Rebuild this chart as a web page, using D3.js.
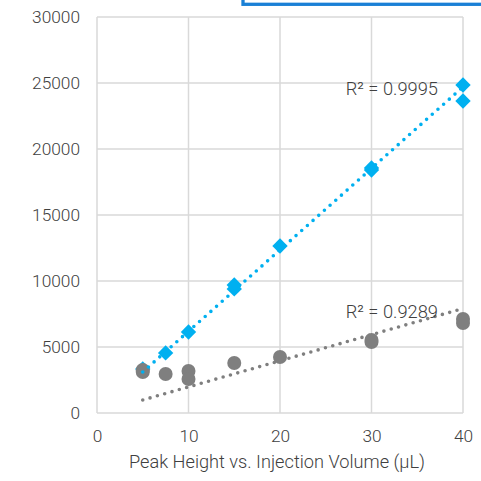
<!DOCTYPE html>
<html>
<head>
<meta charset="utf-8">
<script src="https://cdn.jsdelivr.net/npm/d3@7"></script>
<style>
  html, body { margin: 0; padding: 0; background: #ffffff; }
  svg { display: block; }
  text { font-family: Roboto, "Noto Sans", sans-serif; font-weight: 300; fill: #404040; }
</style>
</head>
<body>
<svg id="chart" width="481" height="481"></svg>
<script>
// ---- data ----
const xTicks = [0, 10, 20, 30, 40];
const yTicks = [0, 5000, 10000, 15000, 20000, 25000, 30000];
const blueX = [5, 7.5, 10, 15, 15, 20, 30, 30, 40, 40];
const blueY = [3330, 4550, 6140, 9700, 9400, 12650, 18560, 18410, 24850, 23640];
const greyX = [5, 5, 7.5, 10, 10, 15, 20, 30, 30, 40, 40];
const greyY = [3260, 3100, 2950, 3180, 2580, 3790, 4240, 5380, 5530, 7120, 6820];
// trendline coefficients (slope, intercept) and labels
const blueTrend = [617, 20];
const greyTrend = [198, -5];
const trendRange = [5, 40];
const blueR2 = "R² = 0.9995";
const greyR2 = "R² = 0.9289";
const xTitle = "Peak Height vs. Injection Volume (µL)";

const blueColor = "#00b0f0";
const greyColor = "#7f7f7f";
const gridColor = "#d9d9d9";

const svg = d3.select("#chart");
const pL = 97, pR = 463, pT = 17, pB = 413;

const x = d3.scaleLinear().domain([0, 40]).range([pL, pR]);
const y = d3.scaleLinear().domain([0, 30000]).range([pB, pT]);

// legend box fragment at top
svg.append("rect")
  .attr("x", 243).attr("y", -20).attr("width", 300).attr("height", 24.3)
  .attr("fill", "none").attr("stroke", "#1a80d6").attr("stroke-width", 3.3);

// gridlines
const g = svg.append("g");
g.selectAll("line.h").data(yTicks).join("line")
  .attr("x1", pL).attr("x2", pR)
  .attr("y1", d => y(d)).attr("y2", d => y(d))
  .attr("stroke", gridColor).attr("stroke-width", 1.5);
g.selectAll("line.v").data(xTicks).join("line")
  .attr("x1", d => x(d)).attr("x2", d => x(d))
  .attr("y1", pT).attr("y2", pB)
  .attr("stroke", gridColor).attr("stroke-width", 1.5);

// axes (labels only)
const yAxis = d3.axisLeft(y).tickValues(yTicks).tickSize(0).tickPadding(17).tickFormat(d3.format("d"));
const yg = svg.append("g").attr("transform", `translate(${pL},0)`).call(yAxis);
yg.select(".domain").remove();
yg.selectAll("text").style("font-size", "17.3px").attr("fill", "#404040").style("font-family", "Roboto").style("font-weight", 300);

const xAxis = d3.axisBottom(x).tickValues(xTicks).tickSize(0).tickPadding(17);
const xg = svg.append("g").attr("transform", `translate(0,${pB})`).call(xAxis);
xg.select(".domain").remove();
xg.selectAll("text").style("font-size", "17.3px").attr("fill", "#404040").style("font-family", "Roboto").style("font-weight", 300);

svg.append("text").attr("x", (pL + pR) / 2 - 3).attr("y", 467.5)
  .attr("text-anchor", "middle").style("font-size", "18.2px").text(xTitle);

// markers
const diamond = d3.symbol().type(d3.symbolSquare).size(118);
svg.append("g").selectAll("path").data(blueX.map((d, i) => [d, blueY[i]])).join("path")
  .attr("d", diamond)
  .attr("transform", d => `translate(${x(d[0])},${y(d[1])}) rotate(45)`)
  .attr("fill", blueColor);

svg.append("g").selectAll("circle").data(greyX.map((d, i) => [d, greyY[i]])).join("circle")
  .attr("cx", d => x(d[0])).attr("cy", d => y(d[1])).attr("r", 7)
  .attr("fill", greyColor);

// trendlines
function trend(coef, color) {
  svg.append("line")
    .attr("x1", x(trendRange[0])).attr("y1", y(coef[0] * trendRange[0] + coef[1]))
    .attr("x2", x(trendRange[1])).attr("y2", y(coef[0] * trendRange[1] + coef[1]))
    .attr("stroke", color).attr("stroke-width", 3.6)
    .attr("stroke-linecap", "round").attr("stroke-dasharray", "0 7.6");
}
trend(blueTrend, blueColor);
trend(greyTrend, greyColor);

// R² labels
svg.append("text").attr("x", 438).attr("y", 95).attr("text-anchor", "end")
  .style("font-size", "18.3px").text(blueR2);
svg.append("text").attr("x", 438).attr("y", 318).attr("text-anchor", "end")
  .style("font-size", "18.3px").text(greyR2);
</script>
</body>
</html>
